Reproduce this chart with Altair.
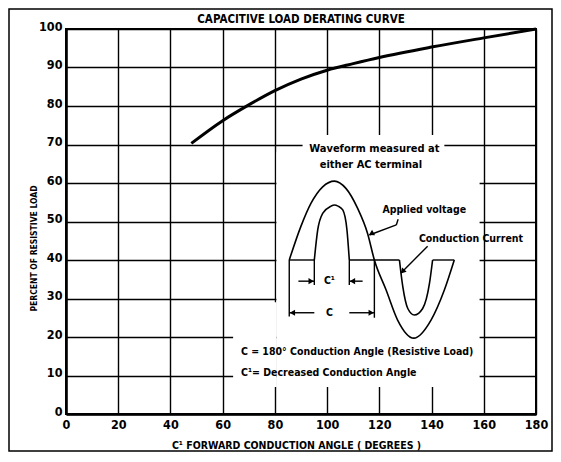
import altair as alt
import pandas as pd

FONT = "DejaVu Sans Condensed, Liberation Sans Narrow, sans-serif"

TITLE = ["CAPACITIVE LOAD DERATING CURVE"]

# ---- main derating curve (conduction angle in degrees, percent of resistive load)
curve_angle = [48, 60, 70, 80, 90, 100, 110, 120, 140, 160, 180]
curve_pct = [70.3, 76.2, 80.3, 84, 87, 89.3, 91, 92.6, 95.3, 97.7, 100]

x_ticks = [0, 20, 40, 60, 80, 100, 120, 140, 160, 180]
y_ticks = [0, 10, 20, 30, 40, 50, 60, 70, 80, 90, 100]

# ---- inset sketch, drawn in the same data units
volt_angle = [85.5, 90.0, 93.8, 98.3, 102.8, 107.2, 111.7, 115.5, 118.1,
              122.6, 127.0, 133.2, 139.8, 144.9, 148.7]
volt_pct = [40, 48.8, 54.7, 59.0, 60.5, 58.6, 53.4, 46.9, 40,
            32.2, 24.4, 19.7, 24.4, 32.2, 40]

pulse1_angle = [95.1, 96.4, 98.3, 101.5, 102.8, 104.2, 106.0, 107.6, 108.5]
pulse1_pct = [40, 47.8, 52.1, 54.0, 54.3, 54.0, 53.0, 47.8, 40]

pulse2_angle = [127.7, 129.0, 130.9, 133.4, 136.6, 139.2, 140.4]
pulse2_pct = [40, 33.0, 27.4, 25.7, 27.4, 33.9, 40]

# straight strokes: baseline pieces, dimension lines, arrow shafts, leaders
seg_a1 = [85.5, 108.5, 140.4, 85.5, 95.1, 108.5, 118.1, 89.0, 108.5, 85.5, 108.5, 127.2, 126.5, 138.5]
seg_a2 = [95.1, 127.7, 148.7, 85.5, 95.1, 108.5, 118.1, 95.1, 113.6, 95.1, 118.1, 126.5, 116.2, 128.3]
seg_p1 = [40, 40, 40, 40, 40, 40, 40, 34.5, 34.5, 26.3, 26.3, 50.6, 49.1, 43.6]
seg_p2 = [40, 40, 40, 25.3, 33.5, 33.5, 25.0, 34.5, 34.5, 26.3, 26.3, 49.1, 46.5, 36.6]

# arrow heads (centre position and pointing direction, degrees clockwise from up)
head_angle = [93.9, 109.7, 86.7, 116.9, 116.9, 128.9]
head_pct = [34.5, 34.5, 26.3, 26.3, 46.8, 37.0]
head_dir = [90, 270, 270, 90, 241, 224]

# white areas of the inset that hide the grid
box_a1 = [80.6, 90.6, 64.0]
box_a2 = [158.4, 144.9, 80.6]
box_p1 = [7, 68, 7]
box_p2 = [68, 72.5, 29]

# inset texts
head_text = ["Waveform measured at", "either AC terminal"]
head_text_angle = [118.1, 116.8]
head_text_pct = [68.8, 64.7]

note_text = ["Applied voltage", "Conduction Current", "C\u00b9", "C"]
note_angle = [137.2, 155.1, 100.9, 100.9]
note_pct = [53.0, 45.5, 34.5, 26.3]

legend_text = ["C = 180\u00b0 Conduction Angle (Resistive Load)",
               "C\u00b9= Decreased Conduction Angle"]
legend_angle = [67.0, 67.0]
legend_pct = [16.2, 10.6]

W, H = 470, 385

xscale = alt.Scale(domain=[0, 180], nice=False, zero=True)
yscale = alt.Scale(domain=[0, 100], nice=False, zero=True)

xaxis = alt.Axis(values=x_ticks, grid=True, gridColor="black", gridWidth=1.4,
                 gridOpacity=1, domainColor="black", domainWidth=2.5, ticks=False,
                 labelFont=FONT, labelFontSize=12.5, labelFontWeight="bold",
                 labelColor="black", labelPadding=4, labelFlush=False,
                 labelOverlap=False,
                 title="C\u00b9 FORWARD CONDUCTION ANGLE ( DEGREES )",
                 titleFont=FONT, titleFontSize=10.5, titleFontWeight="bold",
                 titleColor="black", titleX=230, titleY=31, titleBaseline="middle",
                 titleAlign="center", zindex=0)
yaxis = alt.Axis(values=y_ticks, grid=True, gridColor="black", gridWidth=1.4,
                 gridOpacity=1, domainColor="black", domainWidth=2.5, ticks=False,
                 labelFont=FONT, labelFontSize=12.5, labelFontWeight="bold",
                 labelColor="black", labelPadding=4, labelBaseline="middle",
                 labelOffset=-3, labelFlush=False, labelOverlap=False,
                 title="PERCENT OF RESISTIVE LOAD", titleFont=FONT,
                 titleFontSize=8.5, titleFontWeight="bold", titleColor="black",
                 titleAngle=270, titleX=-33, titleY=219, titleAlign="center",
                 titleBaseline="middle", zindex=0)


def X(f="a"):
    return alt.X(f"{f}:Q", scale=xscale, axis=xaxis)


def Y(f="p"):
    return alt.Y(f"{f}:Q", scale=yscale, axis=yaxis)


boxes = alt.Chart(pd.DataFrame({"a": box_a1, "a2": box_a2, "p": box_p1, "p2": box_p2})).mark_rect(
    color="white").encode(x=X(), x2="a2:Q", y=Y(), y2="p2:Q")

main = alt.Chart(pd.DataFrame({"a": curve_angle, "p": curve_pct})).mark_line(
    color="black", strokeWidth=3, interpolate="monotone").encode(x=X(), y=Y())

wave_rows = []
for name, aa, pp in [("v", volt_angle, volt_pct), ("c1", pulse1_angle, pulse1_pct),
                     ("c2", pulse2_angle, pulse2_pct)]:
    for i, (a, p) in enumerate(zip(aa, pp)):
        wave_rows.append({"s": name, "i": i, "a": a, "p": p})
waves = alt.Chart(pd.DataFrame(wave_rows)).mark_line(
    color="black", strokeWidth=1.6, interpolate="monotone").encode(
    x=X(), y=Y(), detail="s:N", order="i:Q")

segs = alt.Chart(pd.DataFrame({"a": seg_a1, "a2": seg_a2, "p": seg_p1, "p2": seg_p2})).mark_rule(
    color="black", strokeWidth=1.4).encode(x=X(), x2="a2:Q", y=Y(), y2="p2:Q")

heads = alt.Chart(pd.DataFrame({"a": head_angle, "p": head_pct, "d": head_dir})).mark_point(
    shape="triangle-up", filled=True, color="black", opacity=1, size=38).encode(
    x=X(), y=Y(), angle=alt.Angle("d:Q", scale=None))

heading = alt.Chart(pd.DataFrame({"a": head_text_angle, "p": head_text_pct, "t": head_text})).mark_text(
    font=FONT, fontSize=11, fontWeight="bold", color="black", align="center",
    baseline="middle").encode(x=X(), y=Y(), text="t:N")

notes = alt.Chart(pd.DataFrame({"a": note_angle, "p": note_pct, "t": note_text})).mark_text(
    font=FONT, fontSize=10.5, fontWeight="bold", color="black", align="center",
    baseline="middle").encode(x=X(), y=Y(), text="t:N")

legend = alt.Chart(pd.DataFrame({"a": legend_angle, "p": legend_pct, "t": legend_text})).mark_text(
    font=FONT, fontSize=10.5, fontWeight="bold", color="black", align="left",
    baseline="middle").encode(x=X(), y=Y(), text="t:N")

title = alt.Chart(pd.DataFrame({"t": TITLE})).mark_text(
    font=FONT, fontSize=11.5, fontWeight="bold", color="black", align="center",
    baseline="middle").encode(x=alt.value(235), y=alt.value(-9), text="t:N")

frame = alt.Chart(pd.DataFrame({"k": [0]})).mark_rect(
    fillOpacity=0, stroke="black", strokeWidth=1.5).encode(
    x=alt.value(-57), x2=alt.value(486), y=alt.value(-20), y2=alt.value(422))

chart = alt.layer(boxes, main, waves, segs, heads, heading, notes, legend, title, frame).properties(
    width=W, height=H,
    autosize=alt.AutoSizeParams(type="none"),
    padding={"left": 58, "top": 21, "right": 17, "bottom": 38},
    background="white",
).configure_view(stroke="black", strokeWidth=2)

chart.save("out.html", embed_options={"renderer": "svg", "actions": False})
